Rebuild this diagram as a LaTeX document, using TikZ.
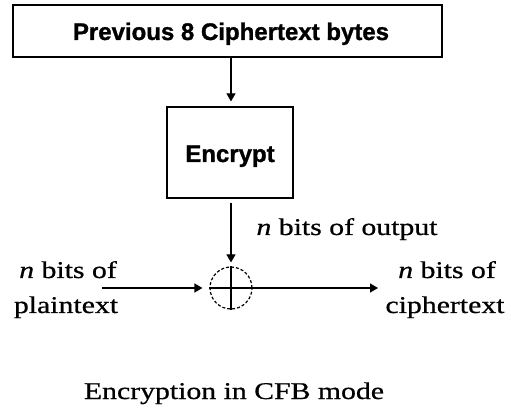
\documentclass[tikz,border=0pt]{standalone}
\usepackage{fontspec}
\setmainfont{Liberation Serif}
\newfontfamily\lblfont[FakeStretch=1.24,FakeBold=0.7]{Liberation Serif}
\newfontfamily\boxfont[FakeBold=1.2]{Liberation Sans}
\usetikzlibrary{arrows.meta}
\begin{document}
\begin{tikzpicture}[x=1pt,y=1pt,
  lbl/.style={font=\fontsize{24}{28}\selectfont\lblfont, inner sep=0pt, anchor=base},
  boxlbl/.style={font=\fontsize{24}{28}\selectfont\boxfont\bfseries, inner sep=0pt, anchor=base},
  arr/.style={-{Triangle[width=9pt,length=8pt]}, line width=1.2pt},
  ln/.style={line width=1.2pt}]
\useasboundingbox (0,0) rectangle (511,407);
% boxes
\node[draw, line width=2.4pt, minimum width=429pt, minimum height=52pt, inner sep=0pt] (prev) at (227.5,376) {};
\node[boxlbl] (prevt) at (231,367) {Previous 8 Ciphertext bytes};
\node[draw, line width=1.2pt, minimum width=126pt, minimum height=91pt, inner sep=0pt] (enc) at (230,254.5) {};
\node[boxlbl] (enct) at (230,245) {Encrypt};
% xor
\node[draw, densely dashed, line width=1.2pt, circle, minimum size=42pt, inner sep=0pt] (xor) at (231,119) {};
\draw[ln] (xor.north) -- (xor.south);
\draw[ln] (xor.west) -- (xor.east);
% connectors
\draw[arr, shorten >=5pt] (prev.south -| 231,0) -- (enc.north -| 231,0);
\draw[arr, shorten <=4pt, shorten >=4pt] (enc.south -| xor.north) -- (xor.north);
\coordinate (pin) at (102,119);
\coordinate (cout) at (378,119);
\draw[arr, shorten >=7pt] (pin) -- (xor.west);
\draw[arr] (xor.east) -- (cout);
% labels
\node[lbl] (outl) at (347,172) {\textit{n} bits of output};
\node[lbl] (pl1) at (68,129) {\textit{n} bits of};
\node[lbl] (pl2) at (66,94) {plaintext};
\node[lbl] (cl1) at (447,129) {\textit{n} bits of};
\node[lbl] (cl2) at (445,94) {ciphertext};
\node[lbl] (cap) at (234,8) {Encryption in CFB mode};
\end{tikzpicture}
\end{document}
